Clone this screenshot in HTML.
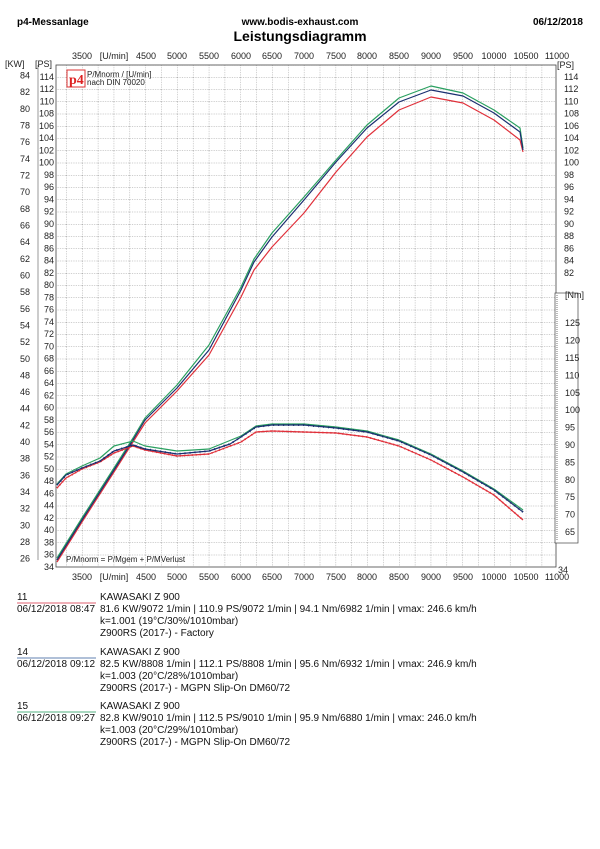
<!DOCTYPE html>
<html><head><meta charset="utf-8"><style>
body{margin:0;background:#fff;width:600px;height:849px;overflow:hidden}
svg{display:block;font-family:"Liberation Sans",Arial,sans-serif}
.t{font-size:9px;fill:#222}
.l{font-size:10px;fill:#111}
</style></head><body>
<svg width="600" height="849" viewBox="0 0 600 849">
<defs>
<pattern id="g" x="82" y="77" width="15.85" height="12.25" patternUnits="userSpaceOnUse">
<path d="M0 0V12.25M0 0H15.85" stroke="#777" stroke-width="0.7" stroke-dasharray="1.2,1.2" fill="none"/>
</pattern>
</defs>
<text x="17" y="25" font-size="10" font-weight="bold">p4-Messanlage</text>
<text x="300" y="25" font-size="10" font-weight="bold" text-anchor="middle">www.bodis-exhaust.com</text>
<text x="583" y="25" font-size="10" font-weight="bold" text-anchor="end">06/12/2018</text>
<text x="300" y="41" font-size="14" font-weight="bold" text-anchor="middle">Leistungsdiagramm</text>

<rect x="56" y="65" width="500" height="502" fill="url(#g)"/>
<rect x="56" y="65" width="500" height="502" fill="none" stroke="#444" stroke-width="0.8"/>
<line x1="38" y1="65" x2="38" y2="560" stroke="#555" stroke-width="0.6"/>

<g class="t" text-anchor="middle">
<text x="82" y="59">3500</text><text x="114" y="59">[U/min]</text><text x="146" y="59">4500</text><text x="177" y="59">5000</text><text x="209" y="59">5500</text><text x="241" y="59">6000</text><text x="272" y="59">6500</text><text x="304" y="59">7000</text><text x="336" y="59">7500</text><text x="367" y="59">8000</text><text x="399" y="59">8500</text><text x="431" y="59">9000</text><text x="463" y="59">9500</text><text x="494" y="59">10000</text><text x="526" y="59">10500</text><text x="557" y="59">11000</text>
<text x="82" y="580">3500</text><text x="114" y="580">[U/min]</text><text x="146" y="580">4500</text><text x="177" y="580">5000</text><text x="209" y="580">5500</text><text x="241" y="580">6000</text><text x="272" y="580">6500</text><text x="304" y="580">7000</text><text x="336" y="580">7500</text><text x="367" y="580">8000</text><text x="399" y="580">8500</text><text x="431" y="580">9000</text><text x="463" y="580">9500</text><text x="494" y="580">10000</text><text x="526" y="580">10500</text><text x="557" y="580">11000</text>
</g>
<text class="t" x="5" y="67">[KW]</text><text class="t" x="35" y="67">[PS]</text>
<text class="t" x="557" y="68">[PS]</text>

<g class="t" text-anchor="end">
<text x="30" y="78.5">84</text><text x="30" y="95.2">82</text><text x="30" y="111.9">80</text><text x="30" y="128.5">78</text><text x="30" y="145.2">76</text><text x="30" y="161.8">74</text><text x="30" y="178.5">72</text><text x="30" y="195.2">70</text><text x="30" y="211.8">68</text><text x="30" y="228.5">66</text><text x="30" y="245.1">64</text><text x="30" y="261.8">62</text><text x="30" y="278.4">60</text><text x="30" y="295.1">58</text><text x="30" y="311.8">56</text><text x="30" y="328.4">54</text><text x="30" y="345.1">52</text><text x="30" y="361.8">50</text><text x="30" y="378.4">48</text><text x="30" y="395.1">46</text><text x="30" y="411.7">44</text><text x="30" y="428.4">42</text><text x="30" y="445.1">40</text><text x="30" y="461.7">38</text><text x="30" y="478.4">36</text><text x="30" y="495">34</text><text x="30" y="511.7">32</text><text x="30" y="528.4">30</text><text x="30" y="545">28</text><text x="30" y="561.7">26</text>
</g>
<g class="t" text-anchor="end">
<text x="54" y="80">114</text><text x="54" y="92.2">112</text><text x="54" y="104.5">110</text><text x="54" y="116.7">108</text><text x="54" y="129">106</text><text x="54" y="141.2">104</text><text x="54" y="153.5">102</text><text x="54" y="165.7">100</text><text x="54" y="178">98</text><text x="54" y="190.2">96</text><text x="54" y="202.5">94</text><text x="54" y="214.7">92</text><text x="54" y="227">90</text><text x="54" y="239.2">88</text><text x="54" y="251.5">86</text><text x="54" y="263.7">84</text><text x="54" y="276">82</text><text x="54" y="288.2">80</text><text x="54" y="300.5">78</text><text x="54" y="312.7">76</text><text x="54" y="325">74</text><text x="54" y="337.2">72</text><text x="54" y="349.5">70</text><text x="54" y="361.7">68</text><text x="54" y="374">66</text><text x="54" y="386.2">64</text><text x="54" y="398.5">62</text><text x="54" y="410.7">60</text><text x="54" y="423">58</text><text x="54" y="435.2">56</text><text x="54" y="447.5">54</text><text x="54" y="459.7">52</text><text x="54" y="472">50</text><text x="54" y="484.2">48</text><text x="54" y="496.5">46</text><text x="54" y="508.7">44</text><text x="54" y="521">42</text><text x="54" y="533.2">40</text><text x="54" y="545.5">38</text><text x="54" y="557.7">36</text><text x="54" y="570">34</text>
</g>
<g class="t">
<text x="564" y="80">114</text><text x="564" y="92.2">112</text><text x="564" y="104.5">110</text><text x="564" y="116.7">108</text><text x="564" y="129">106</text><text x="564" y="141.2">104</text><text x="564" y="153.5">102</text><text x="564" y="165.7">100</text><text x="564" y="178">98</text><text x="564" y="190.2">96</text><text x="564" y="202.5">94</text><text x="564" y="214.7">92</text><text x="564" y="227">90</text><text x="564" y="239.2">88</text><text x="564" y="251.5">86</text><text x="564" y="263.7">84</text><text x="564" y="276">82</text>
<text x="558" y="573">34</text>
</g>
<rect x="555" y="293" width="23" height="250" fill="#fff" stroke="#444" stroke-width="0.7"/>
<line x1="557" y1="295" x2="557" y2="541" stroke="#555" stroke-width="0.8" stroke-dasharray="1,1"/>
<g class="t">
<text x="565" y="298">[Nm]</text>
<text x="565" y="326.2">125</text><text x="565" y="343.6">120</text><text x="565" y="361">115</text><text x="565" y="378.4">110</text><text x="565" y="395.8">105</text><text x="565" y="413.2">100</text><text x="565" y="430.6">95</text><text x="565" y="448">90</text><text x="565" y="465.4">85</text><text x="565" y="482.8">80</text><text x="565" y="500.2">75</text><text x="565" y="517.6">70</text><text x="565" y="535">65</text>
</g>

<rect x="67" y="70" width="18" height="17" fill="#fff" stroke="#d33" stroke-width="1"/>
<text x="69" y="84" font-family="Liberation Serif,serif" font-size="14" font-weight="bold" fill="#d22">p4</text>
<text x="87" y="77" font-size="8" fill="#222">P/Mnorm / [U/min]</text>
<text x="87" y="85" font-size="8" fill="#222">nach DIN 70020</text>
<text x="66" y="562" font-size="8" fill="#222">P/Mnorm = P/Mgem + P/MVerlust</text>

<g fill="none" stroke-width="1.2" stroke-linejoin="round">
<polyline stroke="#e0303a" points="57,562 82,522 114,472 133,442 145,423 177,391 209,355 241,297 254,270 272,247 304,213 336,172 367,137 399,110 431,97 463,103 494,120 520,140 523,152"/>
<polyline stroke="#2aa060" points="57,558 82,518 114,468 133,438 145,418 177,385 209,345 241,287 254,259 272,233 304,197 336,160 367,125 399,98 431,86 463,93 494,110 520,128 523,148"/>
<polyline stroke="#1a2f70" points="57,560 82,520 114,470 133,440 145,420 177,388 209,350 241,290 254,262 272,237 304,200 336,162 367,128 399,102 431,90 463,96 494,113 520,132 523,150"/>
<polyline stroke="#e0303a" stroke-width="1.8" stroke-dasharray="1,3" points="57,488 66,478 82,469 100,462 114,453 133,446 145,450 177,456 209,454 241,442 256,432 272,431 304,432 336,433 367,437 399,446 431,460 463,477 494,495 523,520"/>
<polyline stroke="#e0303a" points="57,488 66,478 82,469 100,462 114,453 133,446 145,450 177,456 209,454 241,442 256,432 272,431 304,432 336,433 367,437 399,446 431,460 463,477 494,495 523,520"/>
<polyline stroke="#2aa060" points="57,484 66,474 82,466 100,458 114,446 133,441 145,446 177,451 209,449 241,436 256,426 272,424 304,424 336,427 367,431 399,440 431,454 463,471 494,489 523,510"/>
<polyline stroke="#1a2f70" points="57,485 66,475 82,468 100,461 114,451 133,445 145,449 177,454 209,451 230,444 241,437 256,427 272,425 304,425 336,428 367,432 399,441 431,455 463,472 494,490 523,512"/>
<polyline stroke="#1a2f70" stroke-width="2" stroke-dasharray="1,4" points="57,485 66,475 82,468 100,461 114,451 133,445 145,449 177,454 209,451 230,444 241,437 256,427 272,425 304,425 336,428 367,432 399,441 431,455 463,472 494,490 523,512"/>
</g>

<g class="l">
<text x="17" y="600">11</text><line x1="17" y1="603" x2="96" y2="603" stroke="#e06070" stroke-width="1"/>
<text x="100" y="600">KAWASAKI Z 900</text>
<text x="17" y="612">06/12/2018</text><text x="70" y="612">08:47</text><text x="100" y="612">81.6 KW/9072 1/min  |  110.9 PS/9072 1/min  |  94.1 Nm/6982 1/min  |  vmax: 246.6 km/h</text>
<text x="100" y="624">k=1.001 (19°C/30%/1010mbar)</text>
<text x="100" y="636">Z900RS (2017-) - Factory</text>

<text x="17" y="655">14</text><line x1="17" y1="658" x2="96" y2="658" stroke="#6080b0" stroke-width="1"/>
<text x="100" y="655">KAWASAKI Z 900</text>
<text x="17" y="667">06/12/2018</text><text x="70" y="667">09:12</text><text x="100" y="667">82.5 KW/8808 1/min  |  112.1 PS/8808 1/min  |  95.6 Nm/6932 1/min  |  vmax: 246.9 km/h</text>
<text x="100" y="679">k=1.003 (20°C/28%/1010mbar)</text>
<text x="100" y="691">Z900RS (2017-) - MGPN Slip-On DM60/72</text>

<text x="17" y="709">15</text><line x1="17" y1="712" x2="96" y2="712" stroke="#50b080" stroke-width="1"/>
<text x="100" y="709">KAWASAKI Z 900</text>
<text x="17" y="721">06/12/2018</text><text x="70" y="721">09:27</text><text x="100" y="721">82.8 KW/9010 1/min  |  112.5 PS/9010 1/min  |  95.9 Nm/6880 1/min  |  vmax: 246.0 km/h</text>
<text x="100" y="733">k=1.003 (20°C/29%/1010mbar)</text>
<text x="100" y="745">Z900RS (2017-) - MGPN Slip-On DM60/72</text>
</g>
</svg>
</body></html>
